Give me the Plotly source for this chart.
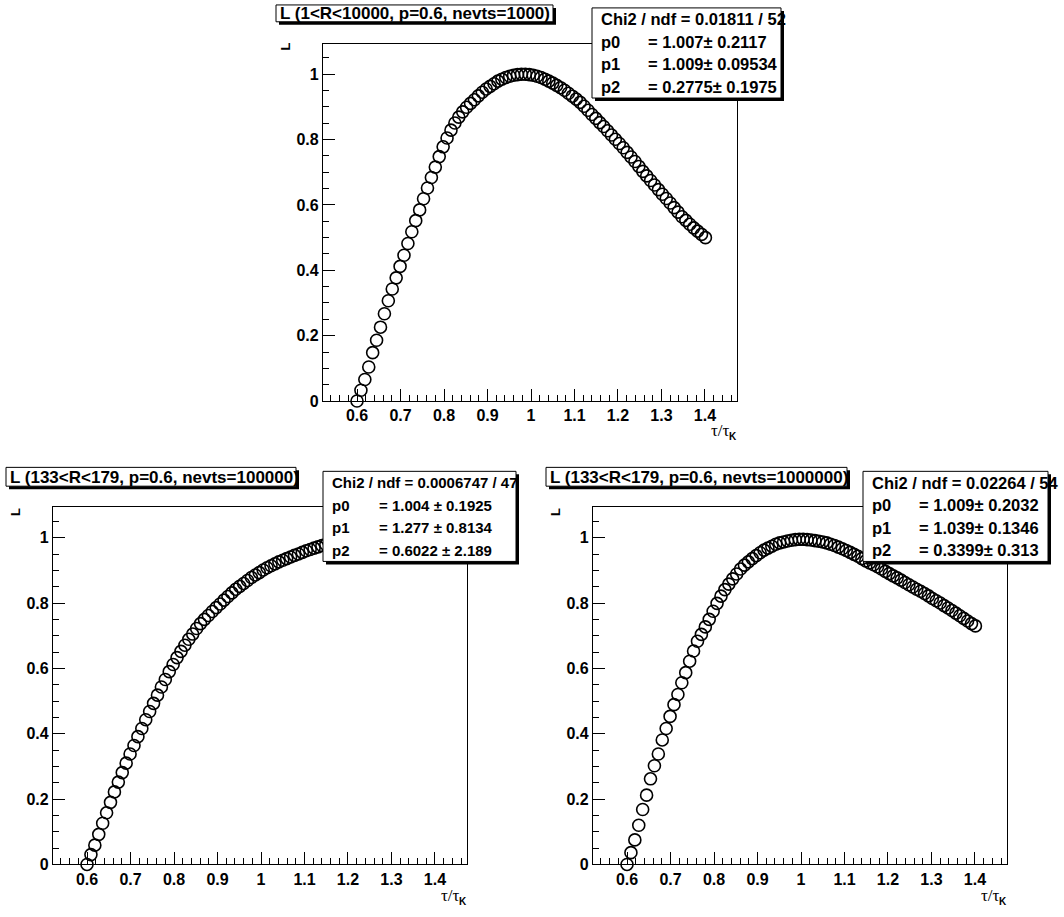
import plotly.graph_objects as go

W, H = 1064, 917

# ---------------- data ----------------
tau_ratio = [0.600, 0.609, 0.618, 0.627, 0.636, 0.645, 0.654, 0.663, 0.672, 0.681,
             0.690, 0.699, 0.708, 0.717, 0.726, 0.735, 0.744, 0.753, 0.762, 0.771,
             0.780, 0.789, 0.798, 0.807, 0.816, 0.825, 0.834, 0.843, 0.852, 0.861,
             0.870, 0.879, 0.888, 0.897, 0.906, 0.915, 0.924, 0.933, 0.942, 0.951,
             0.960, 0.969, 0.978, 0.987, 0.996, 1.005, 1.014, 1.023, 1.032, 1.041,
             1.050, 1.059, 1.068, 1.077, 1.086, 1.095, 1.104, 1.113, 1.122, 1.131,
             1.140, 1.149, 1.158, 1.167, 1.176, 1.185, 1.194, 1.203, 1.212, 1.221,
             1.230, 1.239, 1.248, 1.257, 1.266, 1.275, 1.284, 1.293, 1.302, 1.311,
             1.320, 1.329, 1.338, 1.347, 1.356, 1.365, 1.374, 1.383, 1.392, 1.401]

L_nevts1000 = [0.000, 0.033, 0.066, 0.104, 0.148, 0.186, 0.226, 0.267, 0.307, 0.343,
               0.377, 0.412, 0.446, 0.482, 0.518, 0.552, 0.585, 0.619, 0.652, 0.684,
               0.716, 0.748, 0.778, 0.805, 0.829, 0.851, 0.869, 0.885, 0.899, 0.911,
               0.922, 0.934, 0.945, 0.955, 0.963, 0.971, 0.979, 0.985, 0.990, 0.994,
               0.997, 0.999, 1.000, 1.000, 0.999, 0.997, 0.994, 0.990, 0.985, 0.979,
               0.973, 0.966, 0.959, 0.951, 0.942, 0.933, 0.924, 0.914, 0.902, 0.890,
               0.877, 0.865, 0.852, 0.840, 0.827, 0.814, 0.801, 0.788, 0.775, 0.761,
               0.747, 0.733, 0.718, 0.703, 0.689, 0.675, 0.661, 0.647, 0.633, 0.620,
               0.606, 0.592, 0.578, 0.564, 0.553, 0.541, 0.530, 0.520, 0.510, 0.500]

L_nevts100000 = [0.000, 0.030, 0.059, 0.092, 0.126, 0.158, 0.190, 0.222, 0.252, 0.281,
                 0.310, 0.338, 0.364, 0.391, 0.416, 0.443, 0.468, 0.493, 0.518, 0.543,
                 0.566, 0.590, 0.612, 0.633, 0.652, 0.671, 0.689, 0.705, 0.722, 0.737,
                 0.750, 0.762, 0.774, 0.786, 0.797, 0.809, 0.820, 0.831, 0.842, 0.851,
                 0.860, 0.869, 0.878, 0.886, 0.893, 0.901, 0.908, 0.914, 0.920, 0.926,
                 0.931, 0.936, 0.941, 0.946, 0.950, 0.955, 0.960, 0.964, 0.968, 0.972,
                 0.976, 0.979, 0.982, 0.985, 0.988, 0.990, 0.992, 0.994, 0.996, 0.997,
                 0.998, 0.999, 1.000, 1.001, 1.002, 1.003, 1.003, 1.004, 1.004, 1.004,
                 1.004, 1.003, 1.003, 1.002, 1.001, 1.000, 0.999, 0.998, 0.996, 0.994]

L_nevts1000000 = [0.000, 0.036, 0.075, 0.120, 0.168, 0.212, 0.262, 0.302, 0.338, 0.381,
                  0.416, 0.453, 0.489, 0.520, 0.556, 0.587, 0.622, 0.653, 0.683, 0.704,
                  0.727, 0.750, 0.775, 0.799, 0.821, 0.841, 0.858, 0.874, 0.889, 0.904,
                  0.916, 0.926, 0.936, 0.945, 0.954, 0.962, 0.968, 0.974, 0.980, 0.984,
                  0.987, 0.990, 0.992, 0.994, 0.995, 0.995, 0.994, 0.993, 0.991, 0.989,
                  0.987, 0.984, 0.980, 0.976, 0.971, 0.966, 0.961, 0.955, 0.949, 0.943,
                  0.936, 0.929, 0.923, 0.917, 0.911, 0.904, 0.897, 0.890, 0.883, 0.877,
                  0.870, 0.863, 0.856, 0.849, 0.842, 0.836, 0.829, 0.822, 0.814, 0.807,
                  0.800, 0.792, 0.785, 0.777, 0.769, 0.761, 0.753, 0.745, 0.737, 0.730]

series = [L_nevts1000, L_nevts100000, L_nevts1000000]

titles = ["L (1<R<10000, p=0.6, nevts=1000)",
          "L (133<R<179, p=0.6, nevts=100000)",
          "L (133<R<179, p=0.6, nevts=1000000)"]
chi2_text = ["Chi2 / ndf = 0.01811 / 52",
             "Chi2 / ndf = 0.0006747 / 47",
             "Chi2 / ndf = 0.02264 / 54"]
par_names = ["p0", "p1", "p2"]
par_text = [["= 1.007\u00b1 0.2117", "= 1.009\u00b1 0.09534", "= 0.2775\u00b1 0.1975"],
            ["= 1.004 \u00b1 0.1925", "= 1.277 \u00b1 0.8134", "= 0.6022 \u00b1 2.189"],
            ["= 1.009\u00b1 0.2032", "= 1.039\u00b1 0.1346", "= 0.3399\u00b1 0.313"]]
y_title = "L"
x_title_main = "\u03c4/\u03c4"
x_title_sub = "K"
x_range = [0.5218, 1.4736]
y_range = [0.0, 1.094]

# ---------------- layout in pixels ----------------
panels = [
    dict(plot=(323, 44, 737, 405), title=(276, 5, 553, 22), stats=(592, 8, 781, 99),
         stats_font=16.5, ylab=(286, 47), xlab_y=437),
    dict(plot=(53, 512, 467, 873), title=(6, 472, 296, 491), stats=(323, 476, 516, 567),
         stats_font=15, ylab=(16, 517), xlab_y=906),
    dict(plot=(593, 512, 1007, 873), title=(546, 472, 847, 491), stats=(863, 476, 1048, 567),
         stats_font=16.5, ylab=(556, 517), xlab_y=906),
]


def fx(px):
    return px / W


def fy(py):
    return 1 - py / H


FONT = "Liberation Sans"
fig = go.Figure()
shapes = []
annotations = []
layout = dict(width=W, height=H, margin=dict(l=0, r=0, t=0, b=0),
              paper_bgcolor="white", plot_bgcolor="white", showlegend=False)


def add_box(x0, y0, x1, y1):
    shapes.append(dict(type="rect", xref="paper", yref="paper", layer="above",
                       x0=fx(x0 + 3), x1=fx(x1 + 3), y0=fy(y1 + 3), y1=fy(y0 + 3),
                       fillcolor="black", line=dict(width=0)))
    shapes.append(dict(type="rect", xref="paper", yref="paper", layer="above",
                       x0=fx(x0), x1=fx(x1), y0=fy(y1), y1=fy(y0),
                       fillcolor="white", line=dict(color="black", width=1)))


def text(x, y, s, size, xanchor="left", angle=0, family=FONT, weight="bold"):
    annotations.append(dict(x=fx(x), y=fy(y), xref="paper", yref="paper", text=s,
                            showarrow=False, xanchor=xanchor, yanchor="middle",
                            textangle=angle, borderpad=0,
                            font=dict(family=family, size=size, color="black", weight=weight)))


for i, (p, yv) in enumerate(zip(panels, series)):
    n = "" if i == 0 else str(i + 1)
    xa, ya = "x" + n, "y" + n
    fig.add_trace(go.Scatter(x=tau_ratio, y=yv, mode="markers", xaxis=xa, yaxis=ya,
                             cliponaxis=False,
                             marker=dict(symbol="circle-open", size=12, color="black",
                                         line=dict(width=1.6, color="black"))))
    x0, y0, x1, y1 = p["plot"]
    tickfont = dict(family=FONT, size=16, color="black", weight="bold")
    common = dict(ticks="inside", ticklen=12, tickwidth=1, tickcolor="black",
                  showline=True, linecolor="black", linewidth=1.3, mirror=True,
                  showgrid=False, zeroline=False, tickfont=tickfont, tick0=0)
    layout["xaxis" + n] = dict(domain=[fx(x0), fx(x1)], anchor=ya, range=x_range,
                               dtick=0.1,
                               minor=dict(tick0=0, dtick=0.02, ticks="inside", ticklen=6,
                                          tickwidth=1, tickcolor="black", showgrid=False),
                               **common)
    layout["yaxis" + n] = dict(domain=[fy(y1), fy(y0)], anchor=xa, range=y_range,
                               dtick=0.2,
                               minor=dict(tick0=0, dtick=0.05, ticks="inside", ticklen=6,
                                          tickwidth=1, tickcolor="black", showgrid=False),
                               **common)
    # title box
    tx0, ty0, tx1, ty1 = p["title"]
    add_box(tx0, ty0, tx1, ty1)
    text(tx0 + 3, (ty0 + ty1) / 2 + 0.5, titles[i], 17)
    # stats box
    sx0, sy0, sx1, sy1 = p["stats"]
    sf = p["stats_font"]
    add_box(sx0, sy0, sx1, sy1)
    row = (sy1 - sy0) / 4.0
    text(sx0 + 8, sy0 + row / 2, chi2_text[i], sf)
    for k in range(3):
        yy = sy0 + row * (k + 1.5)
        text(sx0 + 8, yy, par_names[k], sf)
        text(sx0 + 55, yy, par_text[i][k], sf)
    # axis titles
    text(p["ylab"][0], p["ylab"][1], y_title, 13, xanchor="center", angle=-90)
    text(x1 - 6, p["xlab_y"] - 2, x_title_main, 17, xanchor="right",
         family="Liberation Serif", weight="normal")
    text(x1 + 1, p["xlab_y"] + 4, x_title_sub, 10, xanchor="right")

layout["shapes"] = shapes
layout["annotations"] = annotations
fig.update_layout(**layout)
fig.write_html("out.html", config={"displayModeBar": False},
               post_script="document.body.style.margin='0px';")
